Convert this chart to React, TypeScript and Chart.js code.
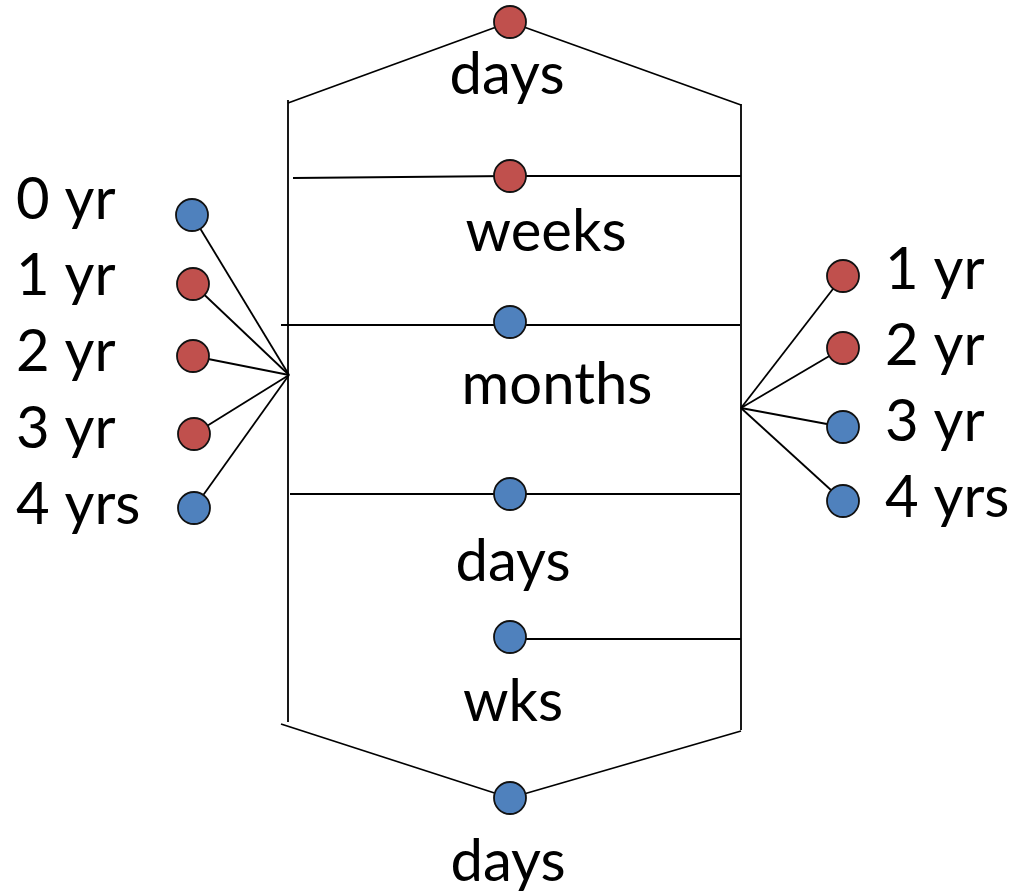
import React, { useEffect, useRef } from "react";
import { Chart, registerables } from "chart.js";

Chart.register(...registerables);

// Spine (centre column) nodes: label, x, y, colour key
const spineLabels = ["days", "weeks", "months", "days", "wks", "days"];
const spineX = [510, 510, 510, 510, 510, 510];
const spineY = [22, 176, 322, 494, 637, 798];
const spineColor = ["red", "red", "blue", "blue", "blue", "blue"];
const spineLabelX = [507, 546, 557, 513, 513, 508];
const spineLabelY = [75, 232, 385, 562, 702, 862];

// Left age nodes
const leftLabels = ["0 yr", "1 yr", "2 yr", "3 yr", "4 yrs"];
const leftX = [192, 193, 193, 194, 194];
const leftY = [215, 284, 356, 434, 508];
const leftColor = ["blue", "red", "red", "red", "blue"];
const leftLabelY = [200, 276, 352, 429, 505];
const leftHub = { x: 289, y: 375 };

// Right age nodes
const rightLabels = ["1 yr", "2 yr", "3 yr", "4 yrs"];
const rightX = [843, 843, 843, 843];
const rightY = [276, 348, 427, 501];
const rightColor = ["red", "red", "blue", "blue"];
const rightLabelY = [270, 346, 422, 498];
const rightHub = { x: 741, y: 408 };

// Frame segments: [x1, y1, x2, y2]
const frameSegments: number[][] = [
  [288, 100, 288, 722],
  [741, 104, 741, 730],
  [288, 103, 510, 22],
  [510, 22, 741, 105],
  [293, 178, 510, 176],
  [510, 176, 741, 176],
  [281, 325, 740, 325],
  [290, 494, 740, 494],
  [510, 639, 741, 639],
  [281, 724, 510, 798],
  [510, 798, 741, 731],
];

const COLORS: Record<string, string> = { red: "#C0504D", blue: "#4F81BD" };

export default function App() {
  const ref = useRef<HTMLCanvasElement | null>(null);

  useEffect(() => {
    document.body.style.margin = "0";
    if (!ref.current) return;

    const lineDs = (pts: { x: number; y: number }[]) => ({
      type: "line" as const,
      data: pts,
      borderColor: "#000",
      borderWidth: 1.8,
      pointRadius: 0,
      showLine: true,
      fill: false,
      tension: 0,
      clip: false,
      order: 2,
    });

    const datasets: any[] = [];
    frameSegments.forEach((s) =>
      datasets.push(lineDs([{ x: s[0], y: s[1] }, { x: s[2], y: s[3] }]))
    );
    leftX.forEach((x, i) =>
      datasets.push(lineDs([{ x, y: leftY[i] }, leftHub]))
    );
    rightX.forEach((x, i) =>
      datasets.push(lineDs([rightHub, { x, y: rightY[i] }]))
    );

    const pointDs = (xs: number[], ys: number[], cols: string[]) => ({
      type: "scatter" as const,
      data: xs.map((x, i) => ({ x, y: ys[i] })),
      pointRadius: 16,
      pointBackgroundColor: cols.map((c) => COLORS[c]),
      pointBorderColor: "#111",
      pointBorderWidth: 1.8,
      showLine: false,
      clip: false,
      order: 0,
    });
    datasets.push(pointDs(spineX, spineY, spineColor));
    datasets.push(pointDs(leftX, leftY, leftColor));
    datasets.push(pointDs(rightX, rightY, rightColor));

    const textPlugin = {
      id: "labels",
      afterDatasetsDraw(chart: any) {
        const { ctx, scales } = chart;
        const sx = scales.x, sy = scales.y;
        ctx.save();
        ctx.fillStyle = "#000";
        ctx.font = "58px Lato, 'Noto Sans', sans-serif";
        ctx.textBaseline = "middle";
        ctx.textAlign = "center";
        spineLabels.forEach((t, i) =>
          ctx.fillText(t, sx.getPixelForValue(spineLabelX[i]), sy.getPixelForValue(spineLabelY[i]))
        );
        ctx.textAlign = "left";
        leftLabels.forEach((t, i) =>
          ctx.fillText(t, sx.getPixelForValue(16), sy.getPixelForValue(leftLabelY[i]))
        );
        rightLabels.forEach((t, i) =>
          ctx.fillText(t, sx.getPixelForValue(885), sy.getPixelForValue(rightLabelY[i]))
        );
        ctx.restore();
      },
    };

    const chart = new Chart(ref.current, {
      type: "scatter",
      data: { datasets },
      options: {
        animation: false,
        responsive: true,
        maintainAspectRatio: false,
        layout: { padding: 0, autoPadding: false },
        plugins: { legend: { display: false }, tooltip: { enabled: false } },
        scales: {
          x: { type: "linear", min: 0, max: 1009, display: false },
          y: { type: "linear", min: 0, max: 895, reverse: true, display: false },
        },
      },
      plugins: [textPlugin],
    });
    return () => chart.destroy();
  }, []);

  return (
    <div style={{ width: 1009, height: 895, position: "relative" }}>
      <canvas ref={ref} />
    </div>
  );
}
